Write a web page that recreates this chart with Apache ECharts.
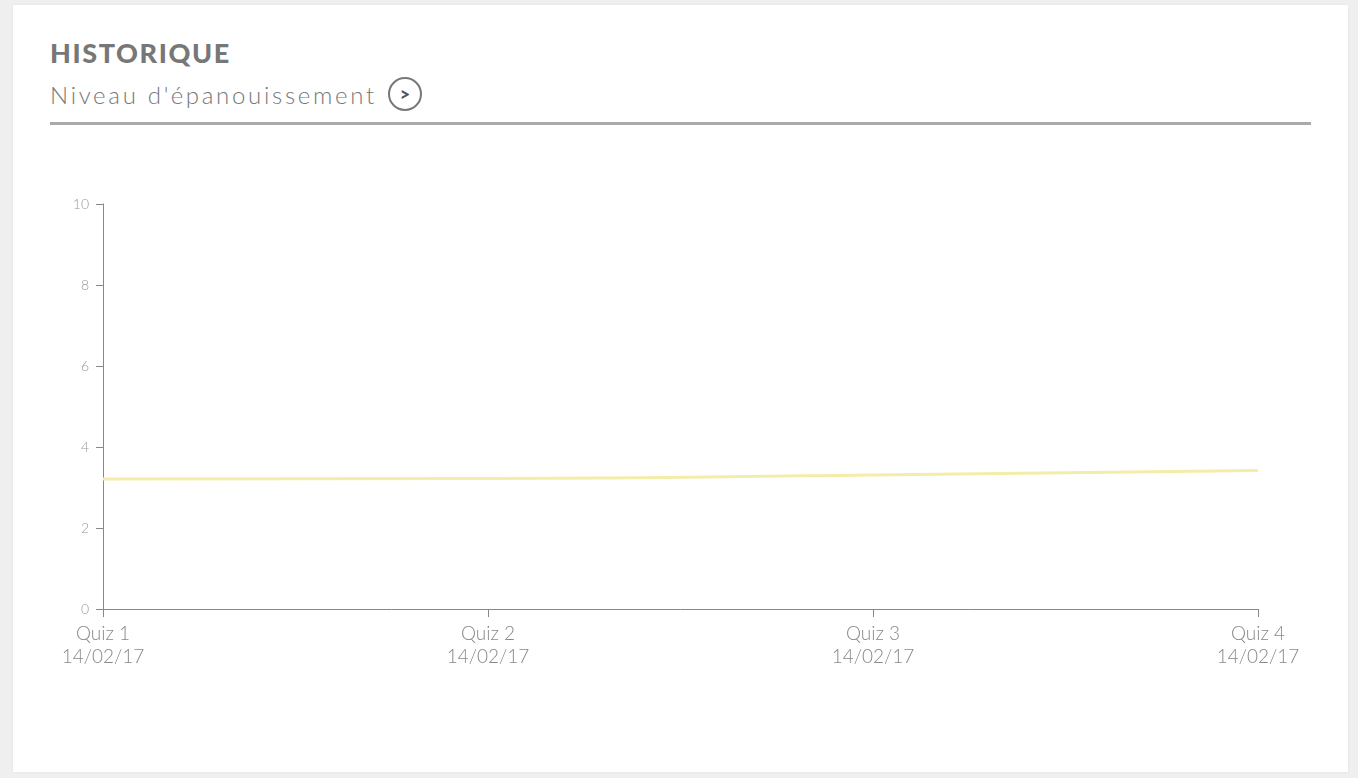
<!DOCTYPE html>
<html><head><meta charset="utf-8">
<script src="https://cdn.jsdelivr.net/npm/echarts@6/dist/echarts.min.js"></script>
<style>
html,body{margin:0;padding:0;width:1358px;height:778px;background:#efefef;overflow:hidden;font-family:Lato,"Open Sans",sans-serif;}
#card{position:absolute;left:13px;top:5px;width:1335px;height:767px;background:#fff;box-shadow:0 0 3px rgba(0,0,0,0.06);}
#title{position:absolute;left:50px;top:36px;font-size:27px;font-weight:900;color:#777;letter-spacing:1.6px;}
#sub{position:absolute;left:50px;top:77px;font-size:24px;font-weight:300;color:#777;letter-spacing:2.7px;white-space:nowrap;display:flex;align-items:center;}
#icon{display:inline-block;margin-left:11px;width:30px;height:30px;border:2px solid #777;border-radius:50%;color:#555;font-size:18px;font-weight:900;line-height:30px;text-align:center;letter-spacing:0;}
#sep{position:absolute;left:50px;top:122px;width:1261px;height:3px;background:#aaa;}
#chart{position:absolute;left:0;top:0;width:1358px;height:778px;}
</style></head>
<body>
<div id="card"></div>
<div id="title">HISTORIQUE</div>
<div id="sub"><span>Niveau d'épanouissement</span><span id="icon">&gt;</span></div>
<div id="sep"></div>
<div id="chart"></div>
<script>
const quizzes = ["Quiz 1", "Quiz 2", "Quiz 3", "Quiz 4"];
const dates = ["14/02/17", "14/02/17", "14/02/17", "14/02/17"];
const niveau = [3.21, 3.22, 3.31, 3.42];
const categories = quizzes.map((q, i) => q + "\n" + dates[i]);

const chart = echarts.init(document.getElementById('chart'));
chart.setOption({
  animation: false,
  grid: {left: 103, right: 100, top: 204, bottom: 169, containLabel: false},
  xAxis: {
    type: 'category', data: categories, boundaryGap: false,
    axisLine: {lineStyle: {color: '#888', width: 1}},
    axisTick: {show: true, length: 8, lineStyle: {color: '#888'}},
    axisLabel: {color: '#888', fontSize: 19, fontFamily: 'Lato', fontWeight: 300, lineHeight: 23, margin: 13}
  },
  yAxis: {
    type: 'value', min: 0, max: 10, interval: 2,
    splitLine: {show: false},
    axisLine: {show: true, lineStyle: {color: '#888', width: 1}},
    axisTick: {show: true, length: 7, lineStyle: {color: '#888'}},
    axisLabel: {color: '#999', fontSize: 14, fontFamily: 'Lato', fontWeight: 300, margin: 14}
  },
  series: [{
    type: 'line', data: niveau, smooth: true, symbol: 'none',
    lineStyle: {color: '#f4eda9', width: 3}
  }]
});
</script>
</body></html>
